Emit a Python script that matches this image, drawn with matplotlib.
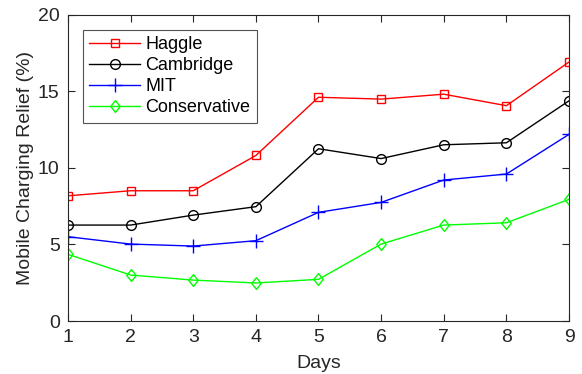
import matplotlib
matplotlib.use('Agg')
import matplotlib.pyplot as plt

## Data
days = [1, 2, 3, 4, 5, 6, 7, 8, 9]
haggle = [8.17, 8.5, 8.5, 10.8, 14.6, 14.48, 14.8, 14.05, 16.9]
cambridge = [6.26, 6.26, 6.91, 7.46, 11.24, 10.6, 11.5, 11.63, 14.37]
mit = [5.5, 5.02, 4.89, 5.24, 7.09, 7.74, 9.2, 9.59, 12.18]
conservative = [4.35, 3.0, 2.67, 2.48, 2.72, 5.02, 6.26, 6.41, 7.94]

plt.rcParams['font.family'] = ['Liberation Sans', 'DejaVu Sans']
axis_color = '#262626'

## MATLAB style diamond (a bit wider than matplotlib's thin one)
diamond = [(0, 1), (0.8, 0), (0, -1), (-0.8, 0), (0, 1)]

fig = plt.figure(figsize=(5.82, 3.74), dpi=100)
ax = fig.add_axes([0.1168, 0.1417, 0.8609, 0.8195])

ax.plot(days, haggle, '-s', color='red', lw=1.0, ms=6, mfc='none', mew=1.0, label='Haggle')
ax.plot(days, cambridge, '-o', color='black', lw=1.0, ms=7, mfc='none', mew=1.0, label='Cambridge')
ax.plot(days, mit, '-+', color='blue', lw=1.0, ms=10, mew=1.0, label='MIT')
ax.plot(days, conservative, '-', marker=diamond, color='#00ff00', lw=1.0, ms=8.5,
        mfc='none', mew=1.0, label='Conservative')

ax.set_xlim(1, 9)
ax.set_ylim(0, 20)
ax.set_xticks(days)
ax.set_yticks([0, 5, 10, 15, 20])
ax.tick_params(direction='in', top=True, right=True, length=5, width=0.8,
               colors=axis_color, labelsize=14, pad=6)
for s in ax.spines.values():
    s.set_color(axis_color)
    s.set_linewidth(0.8)

ax.set_xlabel('Days', fontsize=14, color=axis_color, labelpad=6)
ax.set_ylabel('Mobile Charging Relief (%)', fontsize=14, color=axis_color, labelpad=3)

leg = ax.legend(loc='upper left', bbox_to_anchor=(0.03, 0.949), fontsize=13,
                frameon=True, fancybox=False, edgecolor=axis_color,
                handlelength=2.8, handletextpad=0.3, labelspacing=0.22,
                borderpad=0.35, borderaxespad=0)
leg.get_frame().set_linewidth(0.8)

fig.savefig('out.png', dpi=100)
